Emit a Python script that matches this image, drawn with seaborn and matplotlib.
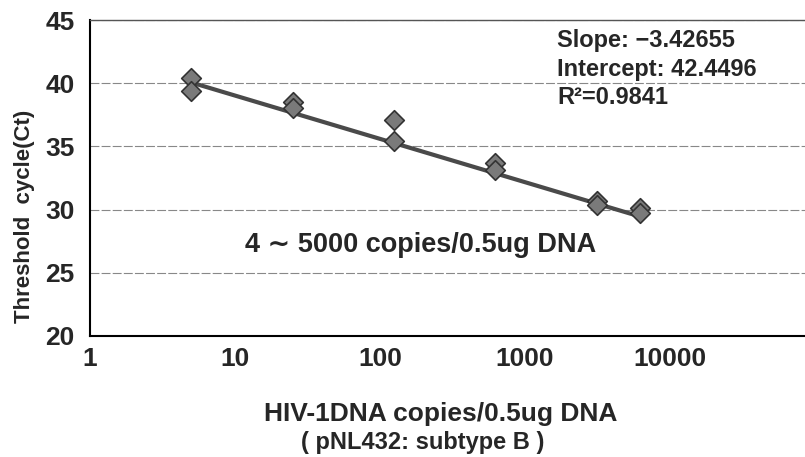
import numpy as np
import pandas as pd
import matplotlib
matplotlib.use("Agg")
import matplotlib.pyplot as plt
import seaborn as sns

# copies per 0.5ug DNA and measured Ct (two replicates each)
copies = [5, 5, 25, 25, 125, 125, 625, 625, 3125, 3125, 6250, 6250]
ct = [40.4, 39.4, 38.5, 38.0, 37.1, 35.4, 33.7, 33.1, 30.7, 30.4, 30.1, 29.7]

slope = -3.42655
intercept = 42.4496
r2 = 0.9841

fit_x = [5, 6250]
fit_y = [intercept + slope * np.log10(v) for v in fit_x]

df = pd.DataFrame({"copies": copies, "ct": ct})
fit = pd.DataFrame({"copies": fit_x, "ct": fit_y})

sns.set_style("white")
plt.rcParams["font.family"] = ["Liberation Sans", "DejaVu Sans"]
plt.rcParams["font.weight"] = "bold"

fig = plt.figure(figsize=(8.05, 4.57), dpi=100)
ax = fig.add_axes([0.1118, 0.2648, 0.8882, 0.6914])

sns.lineplot(data=fit, x="copies", y="ct", ax=ax, color="#4a4a4a", lw=3, zorder=2)
sns.scatterplot(data=df, x="copies", y="ct", ax=ax, marker="D", s=100,
                color="#7a7a7a", edgecolor="#333333", linewidth=1.2, zorder=3)

ax.set_xscale("log")
ax.set_xlim(1, 10 ** ((805 - 90) / 145))
ax.set_ylim(20, 45)
ax.set_yticks([20, 25, 30, 35, 40, 45])
ax.set_xticks([1, 10, 100, 1000, 10000])
ax.set_xticklabels(["1", "10", "100", "1000", "10000"])
ax.minorticks_off()
ax.tick_params(axis="both", labelsize=19, direction="in", length=4, width=0.8,
               color="#666666")
ax.tick_params(axis="y", length=0, pad=11)
ax.tick_params(axis="x", pad=8)
for lab in ax.get_xticklabels() + ax.get_yticklabels():
    lab.set_fontweight("bold")

ax.yaxis.grid(True, color="#888888", lw=0.8, ls=(0, (8, 2)))
ax.set_axisbelow(True)
for s in ["left", "bottom"]:
    ax.spines[s].set_color("black")
    ax.spines[s].set_linewidth(1.5)
ax.spines["top"].set_color("#555555")
ax.spines["top"].set_linewidth(1.0)
ax.spines["right"].set_visible(False)

ax.set_xlabel("HIV-1DNA copies/0.5ug DNA", fontsize=19, fontweight="bold")
ax.xaxis.set_label_coords((441 - 90) / 715, -(402 - 336) / 316)
ax.set_ylabel("Threshold  cycle(Ct)", fontsize=16, fontweight="bold")
ax.yaxis.set_label_coords(-(90 - 35) / 715, (336 - 216) / 316)
fig.text(423 / 805, 1 - 443 / 457, "( pNL432: subtype B )", fontsize=17,
         fontweight="bold", ha="center", va="center")

ax.text(0.653, 0.972, "Slope: \u22123.42655\nIntercept: 42.4496\nR\u00b2=0.9841",
        transform=ax.transAxes, fontsize=17, fontweight="bold", va="top", ha="left",
        linespacing=1.32)
ax.text(0.217, 0.288, "4 \u223c 5000 copies/0.5ug DNA", transform=ax.transAxes,
        fontsize=19.5, fontweight="bold", va="center", ha="left")

fig.savefig("out.png", dpi=100)
